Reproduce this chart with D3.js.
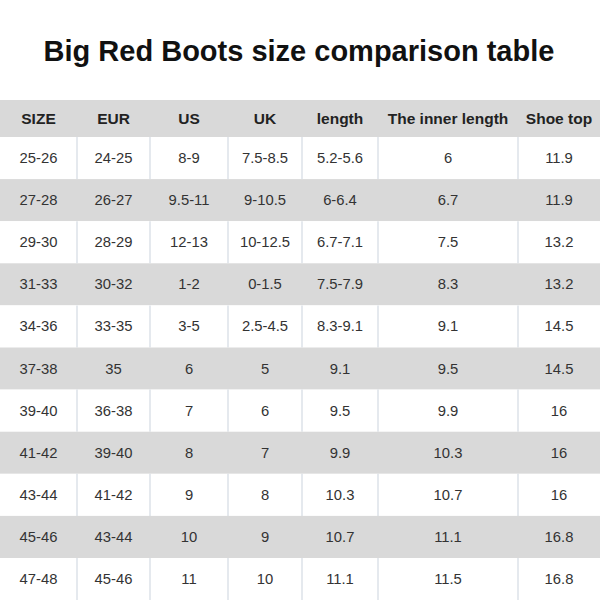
<!DOCTYPE html>
<html><head><meta charset="utf-8">
<script src="https://cdn.jsdelivr.net/npm/d3@7"></script>
<style>body{margin:0;background:#fff}</style>
</head><body>
<script>
var title = "Big Red Boots size comparison table";
var columns = ["SIZE", "EUR", "US", "UK", "length", "The inner length", "Shoe top"];
var sizes = ["25-26","27-28","29-30","31-33","34-36","37-38","39-40","41-42","43-44","45-46","47-48"];
var eur = ["24-25","26-27","28-29","30-32","33-35","35","36-38","39-40","41-42","43-44","45-46"];
var us = ["8-9","9.5-11","12-13","1-2","3-5","6","7","8","9","10","11"];
var uk = ["7.5-8.5","9-10.5","10-12.5","0-1.5","2.5-4.5","5","6","7","8","9","10"];
var lengths = ["5.2-5.6","6-6.4","6.7-7.1","7.5-7.9","8.3-9.1","9.1","9.5","9.9","10.3","10.7","11.1"];
var inner = ["6","6.7","7.5","8.3","9.1","9.5","9.9","10.3","10.7","11.1","11.5"];
var shoeTop = ["11.9","11.9","13.2","13.2","14.5","14.5","16","16","16","16.8","16.8"];

var colEdges = [0, 77, 150, 228, 302, 378, 518, 600];
var headTop = 100, headH = 37, rowH = 42.1;

var rows = sizes.map(function(s, i) {
  return [s, eur[i], us[i], uk[i], lengths[i], inner[i], shoeTop[i]];
});

var svg = d3.select("body").append("svg").attr("width", 600).attr("height", 600)
  .style("font-family", "Arial, 'Liberation Sans', sans-serif");

svg.append("text").attr("x", 299).attr("y", 61).attr("text-anchor", "middle")
  .attr("font-size", 29).attr("font-weight", "bold").attr("fill", "#111").text(title);

// header
svg.append("rect").attr("x", 0).attr("y", headTop).attr("width", 600).attr("height", headH).attr("fill", "#d9d9d9");
svg.selectAll(".head").data(columns).enter().append("text")
  .attr("x", function(d, i) { return (colEdges[i] + colEdges[i + 1]) / 2; })
  .attr("y", headTop + headH / 2 + 5)
  .attr("text-anchor", "middle").attr("font-size", 15.5).attr("font-weight", 600).attr("fill", "#222")
  .text(function(d) { return d; });

var g = svg.selectAll(".row").data(rows).enter().append("g")
  .attr("transform", function(d, i) { return "translate(0," + (headTop + headH + i * rowH) + ")"; });

g.append("rect").attr("width", 600).attr("height", rowH)
  .attr("fill", function(d, i) { return i % 2 ? "#d9d9d9" : "#fff"; });

// vertical separators in white rows
g.filter(function(d, i) { return i % 2 == 0; }).selectAll("line").data(colEdges.slice(1, -1)).enter().append("line")
  .attr("x1", function(d) { return d; }).attr("x2", function(d) { return d; })
  .attr("y1", 0).attr("y2", rowH).attr("stroke", "#d4dbe3").attr("stroke-width", 1.2);

g.selectAll(".cell").data(function(d) { return d; }).enter().append("text")
  .attr("x", function(d, i) { return (colEdges[i] + colEdges[i + 1]) / 2; })
  .attr("y", rowH / 2 + 5)
  .attr("text-anchor", "middle").attr("font-size", 14.8).attr("fill", "#333")
  .text(function(d) { return d; });
</script>
</body></html>
